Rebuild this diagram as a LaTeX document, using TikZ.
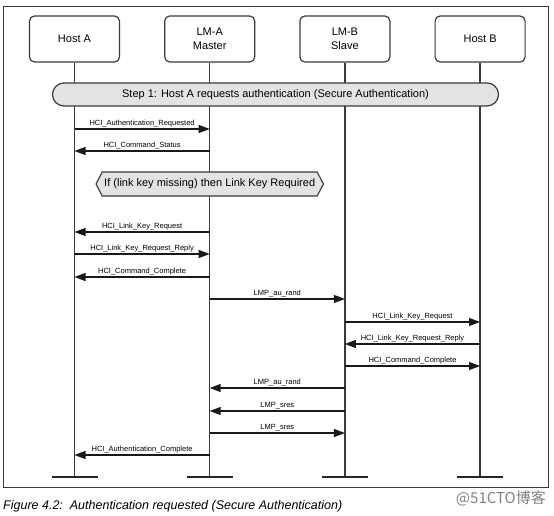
\documentclass[tikz,border=0pt]{standalone}
\usepackage{fontspec}
\setmainfont{Liberation Sans}
\newfontfamily\cjk{Noto Sans CJK SC}
\usetikzlibrary{positioning,arrows.meta,shapes.symbols}
\definecolor{linegray}{HTML}{3A3A3A}
\definecolor{barfill}{HTML}{E3E3E3}

\tikzset{
  entity/.style={draw=linegray, line width=1.2pt, rounded corners=5pt, minimum width=90pt, minimum height=46pt, align=center, font=\fontsize{11}{14.5}\selectfont},
  lifeline/.style={draw=linegray, line width=1.3pt},
  endbar/.style={draw=black!85, line width=2.8pt},
  msg/.style={draw=black!90, line width=1.1pt, -{Triangle[length=11pt,width=8pt]}},
  msglabel/.style={above, inner sep=1.5pt, font=\fontsize{7.5}{9}\selectfont},
  stepbar/.style={draw=linegray, line width=1.2pt, fill=barfill, rounded corners=11.5pt, minimum width=446pt, minimum height=23pt, font=\fontsize{11}{13}\selectfont},
  condition/.style={draw=linegray, line width=1.1pt, fill=barfill, shape=signal, signal to=west and east, signal pointer angle=125, minimum height=24pt, inner xsep=2pt, font=\fontsize{11}{13}\selectfont},
}

\begin{document}
\begin{tikzpicture}[x=1pt,y=1pt]
  \useasboundingbox (0,0) rectangle (554,-516);
  \draw[linegray, line width=1pt] (3.5,-7) rectangle (548,-487);

  \node[entity] (hosta) at (74.5,-39) {Host A};
  \node[entity, right=44pt of hosta] (lma) {LM-A\\Master};
  \node[entity, right=44pt of lma] (lmb) {LM-B\\Slave};
  \node[entity, right=44pt of lmb] (hostb) {Host B};

  \foreach \e in {hosta,lma,lmb,hostb} {
    \coordinate (\e-end) at (\e |- 0,-477);
    \draw[lifeline] (\e.south) -- (\e-end);
    \draw[endbar] ([xshift=-23pt]\e-end) -- ([xshift=23pt]\e-end);
  }

  \node[stepbar] (step) at (275.5,-94.5) {Step 1: Host A requests authentication (Secure Authentication)};
  \node[condition] (cond) at (lma |- 0,-184) {If (link key missing) then Link Key Required};

  \foreach \y/\from/\to/\txt in {
    129/hosta/lma/HCI\_Authentication\_Requested,
    151/lma/hosta/HCI\_Command\_Status,
    232/lma/hosta/HCI\_Link\_Key\_Request,
    254/hosta/lma/HCI\_Link\_Key\_Request\_Reply,
    277/lma/hosta/HCI\_Command\_Complete,
    299/lma/lmb/LMP\_au\_rand,
    322/lmb/hostb/HCI\_Link\_Key\_Request,
    344/hostb/lmb/HCI\_Link\_Key\_Request\_Reply,
    366/lmb/hostb/HCI\_Command\_Complete,
    388/lmb/lma/LMP\_au\_rand,
    411/lmb/lma/LMP\_sres,
    433/lma/lmb/LMP\_sres,
    455/lma/hosta/HCI\_Authentication\_Complete}
    \draw[msg] (\from |- 0,-\y) -- node[msglabel] {\txt} (\to |- 0,-\y);

  \node[anchor=west, inner sep=0pt, font=\fontsize{12.5}{15}\selectfont\itshape] (caption) at (3,-506) {Figure 4.2:\ \ Authentication requested (Secure Authentication)};
  \node[anchor=east, inner sep=0pt, text=gray, font=\cjk\fontsize{15}{18}\selectfont] (mark) at (546,-498) {@51CTO博客};
\end{tikzpicture}
\end{document}
